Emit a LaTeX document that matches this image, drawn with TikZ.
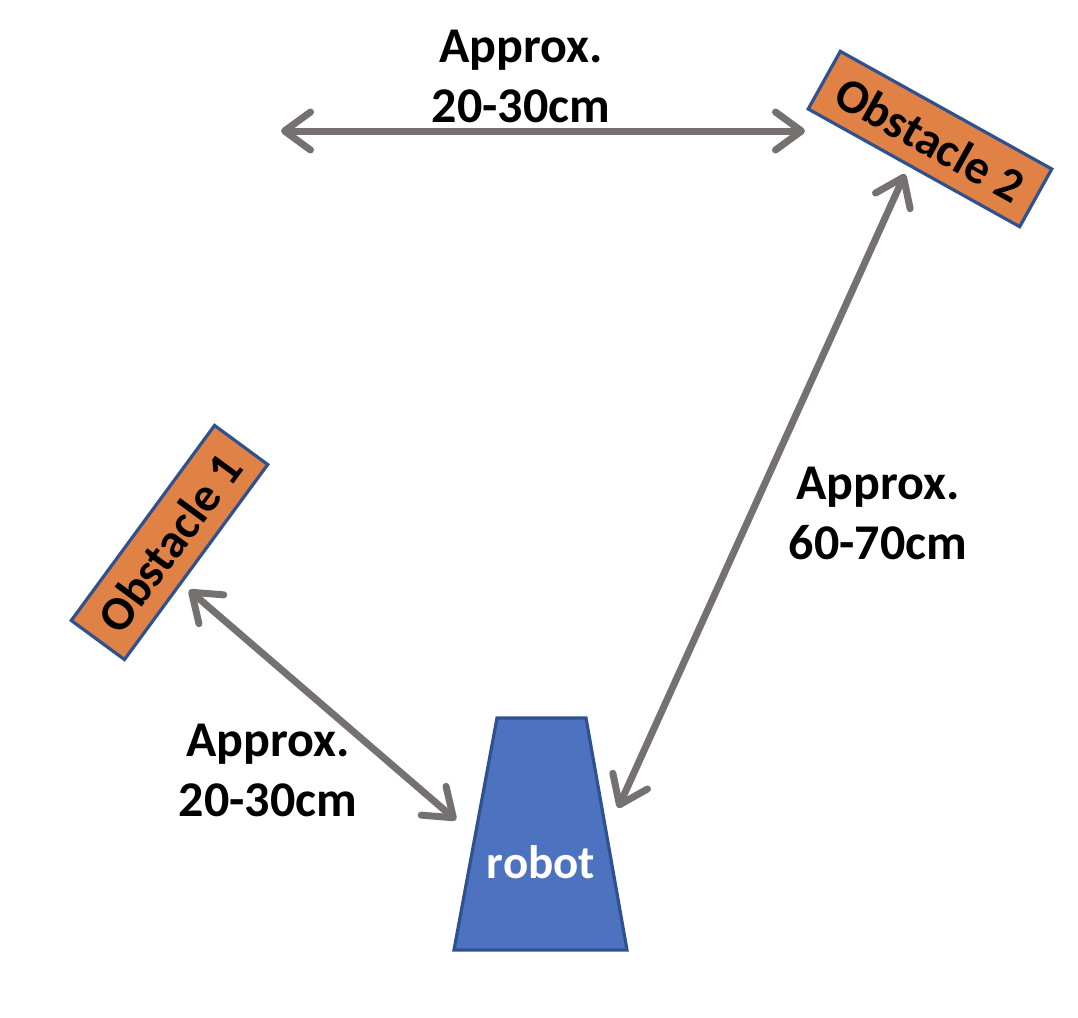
\documentclass[tikz,border=0pt]{standalone}
\usepackage{fontspec}
\setmainfont{Carlito}
\usetikzlibrary{arrows.meta}
\definecolor{obsfill}{RGB}{224,129,69}
\definecolor{edgeblue}{RGB}{47,82,143}
\definecolor{robotfill}{RGB}{76,114,192}
\definecolor{arrowgray}{RGB}{118,113,113}
\tikzset{
  obstacle/.style={draw=edgeblue, line width=1.6pt, fill=obsfill, minimum width=121pt, minimum height=33pt, inner sep=0pt, font=\fontsize{24}{28}\selectfont\bfseries, text=black},
  dimlabel/.style={align=center, font=\fontsize{25}{30}\selectfont\bfseries, text=black, inner sep=0pt},
  dimarrow/.style={draw=arrowgray, line width=3.5pt, line cap=round, {Straight Barb[length=13pt, width=19pt, line cap=round, line join=round]}-{Straight Barb[length=13pt, width=19pt, line cap=round, line join=round]}}
}
\begin{document}
\begin{tikzpicture}[x=0.5pt, y=-0.5pt]
\useasboundingbox (0,0) rectangle (1078,1018);
% robot
\draw[draw=edgeblue, line width=1.6pt, fill=robotfill] (497,718) -- (586,718) -- (627,950) -- (454,950) -- cycle;
\node[font=\fontsize{23.5}{28}\selectfont\bfseries, text=white] (robot) at (541,862) {robot};
% obstacles
\node[obstacle, rotate=-29.1] (obs2) at (930,139) {Obstacle 2};
\node[obstacle, rotate=53.7] (obs1) at (169.5,542.5) {Obstacle 1};
% arrow endpoints
\coordinate (topL) at (281,131);
\coordinate (topR) at (805,131);
\coordinate (o2a) at (905,174);
\coordinate (r2a) at (618,808);
\coordinate (o1a) at (189,590);
\coordinate (r1a) at (456,820);
% arrows
\draw[dimarrow] (topL) -- (topR);
\draw[dimarrow] (r2a) -- (o2a);
\draw[dimarrow] (o1a) -- (r1a);
% labels
\node[dimlabel] (lbltop) at (521,76) {Approx.\\20-30cm};
\node[dimlabel] (lblright) at (878,513) {Approx.\\60-70cm};
\node[dimlabel] (lblleft) at (268,770) {Approx.\\20-30cm};
\end{tikzpicture}
\end{document}
